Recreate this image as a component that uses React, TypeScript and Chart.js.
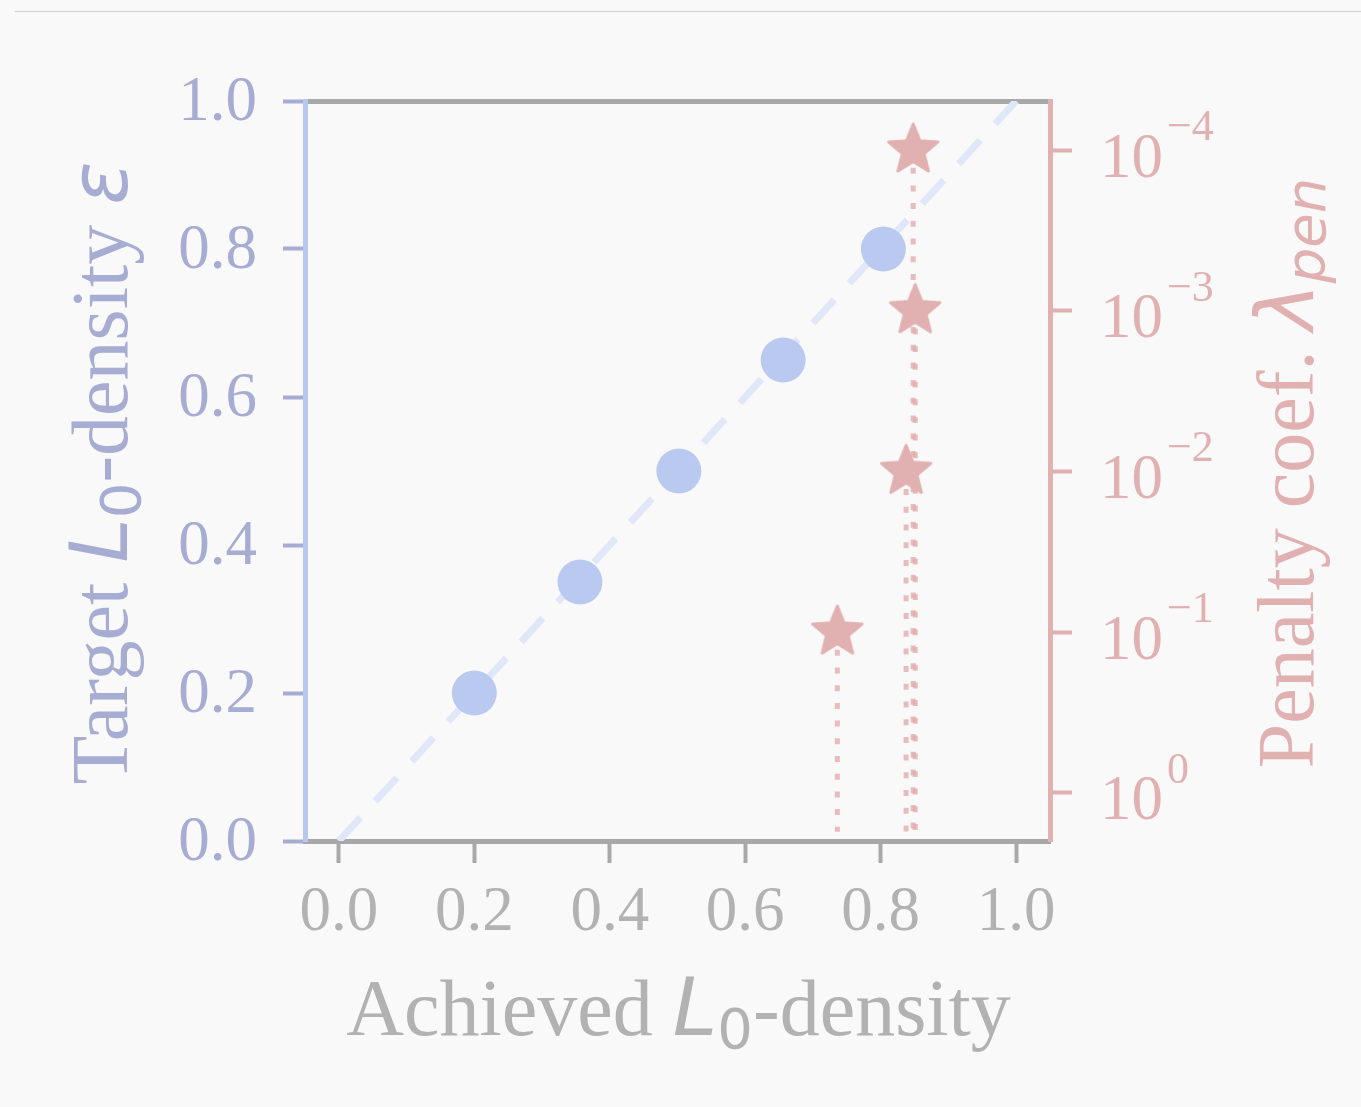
import React, { useEffect, useRef } from 'react';
import { Chart, registerables } from 'chart.js';

Chart.register(...registerables);

// ---- data ----
const achievedDensity = [0.2, 0.356, 0.502, 0.656, 0.804];
const targetDensity = [0.2, 0.35, 0.5, 0.65, 0.8];
const penaltyAchieved = [0.848, 0.851, 0.8375, 0.736];
const penaltyCoef = [1e-4, 1e-3, 1e-2, 1e-1];
const penaltyLineEnd = 1.75;
const diagonal = [0, 1];
const xTickValues = [0, 0.2, 0.4, 0.6, 0.8, 1.0];
const yTickValues = [0, 0.2, 0.4, 0.6, 0.8, 1.0];
const penaltyTickExponents = [-4, -3, -2, -1, 0];

// ---- layout / style ----
const W = 1361;
const H = 1107;
const PLOT = { left: 305, right: 1050, top: 101, bottom: 841 };
const SERIF = '"Liberation Serif", "DejaVu Serif", serif';
const SANS = '"DejaVu Sans", sans-serif';
const BG = '#f9f9f9';
const GRAY = '#a8a8a8';
const GRAY_TXT = '#b2b2b2';
const BLUE_SPINE = '#b7c8ef';
const BLUE_TXT = '#a7acd3';
const BLUE_DOT = '#b9c9ef';
const BLUE_DASH = '#dfe7f8';
const PINK = '#e1b1b1';
const PINK_LINE = 'rgba(226,172,172,0.8)';
const TICK_FONT = 63;
const TITLE_FONT = 80;
const SPINE_W = 5;
const TICK_W = 4;

function makeStar(R: number, color: string) {
  const size = 62;
  const c = document.createElement('canvas');
  c.width = size;
  c.height = size;
  const ctx = c.getContext('2d')!;
  const cx = size / 2;
  const cy = size / 2;
  ctx.beginPath();
  for (let i = 0; i < 10; i++) {
    const r = i % 2 === 0 ? R : R * 0.44;
    const a = -Math.PI / 2 + (i * Math.PI) / 5;
    const px = cx + r * Math.cos(a);
    const py = cy + r * Math.sin(a);
    if (i === 0) ctx.moveTo(px, py);
    else ctx.lineTo(px, py);
  }
  ctx.closePath();
  ctx.fillStyle = color;
  ctx.fill();
  ctx.lineJoin = 'round';
  ctx.lineWidth = 3;
  ctx.strokeStyle = color;
  ctx.stroke();
  return c;
}

type Run = { t: string; f: string; dy?: number };

function drawRuns(ctx: CanvasRenderingContext2D, runs: Run[], cx: number, cy: number, rot: number, color: string) {
  ctx.save();
  ctx.translate(cx, cy);
  ctx.rotate(rot);
  ctx.fillStyle = color;
  ctx.textBaseline = 'alphabetic';
  ctx.textAlign = 'left';
  let total = 0;
  const widths = runs.map((r) => {
    ctx.font = r.f;
    const w = ctx.measureText(r.t).width;
    total += w;
    return w;
  });
  let x = -total / 2;
  runs.forEach((r, i) => {
    ctx.font = r.f;
    ctx.fillText(r.t, x, r.dy || 0);
    x += widths[i];
  });
  ctx.restore();
}

const decorPlugin = {
  id: 'decor',
  afterDraw(chart: any) {
    const ctx: CanvasRenderingContext2D = chart.ctx;
    const serif = `${TITLE_FONT}px ${SERIF}`;
    const math = `italic ${TITLE_FONT}px ${SANS}`;
    const sub = `${Math.round(TITLE_FONT * 0.7)}px ${SANS}`;
    const subIt = `italic ${Math.round(TITLE_FONT * 0.7)}px ${SANS}`;
    const midY = (chart.chartArea.top + chart.chartArea.bottom) / 2 + 2;
    const midX = (chart.chartArea.left + chart.chartArea.right) / 2 + 1;

    // bottom title
    drawRuns(ctx, [
      { t: 'Achieved ', f: serif },
      { t: 'L', f: math },
      { t: '0', f: sub, dy: 13 },
      { t: '-density', f: serif },
    ], midX, 1035, 0, GRAY_TXT);

    // left title
    drawRuns(ctx, [
      { t: 'Target ', f: serif },
      { t: 'L', f: math },
      { t: '0', f: sub, dy: 13 },
      { t: '-density ', f: serif },
      { t: 'ε', f: math },
    ], 127, midY, -Math.PI / 2, BLUE_TXT);

    // right title
    drawRuns(ctx, [
      { t: 'Penalty coef. ', f: serif },
      { t: 'λ', f: math },
      { t: 'pen', f: subIt, dy: 12 },
    ], 1313, midY, -Math.PI / 2, PINK);

    // superscripts of the log-axis tick labels
    const s = chart.scales.y2;
    ctx.save();
    ctx.font = `${TICK_FONT}px ${SERIF}`;
    const baseW = ctx.measureText('10').width;
    ctx.font = `44px ${SERIF}`;
    ctx.fillStyle = PINK;
    ctx.textBaseline = 'alphabetic';
    ctx.textAlign = 'left';
    penaltyTickExponents.forEach((e) => {
      const y = s.getPixelForValue(Math.pow(10, e));
      const x = s.left + 22 + 28 + baseW + 4;
      ctx.fillText((e < 0 ? '\u2212' : '') + Math.abs(e), x, y - 10);
    });
    ctx.restore();
  },
};

export default function App() {
  const ref = useRef<HTMLCanvasElement>(null);

  useEffect(() => {
    const star = makeStar(26, PINK);
    const tickFont = { family: SERIF, size: TICK_FONT };
    const gridBase = { display: true, drawOnChartArea: false, drawTicks: true, tickLength: 22, tickWidth: TICK_W };

    const lineDatasets = penaltyAchieved.map((x, i) => ({
      type: 'scatter' as const,
      data: [
        { x, y: penaltyCoef[i] },
        { x, y: penaltyLineEnd },
      ],
      xAxisID: 'x',
      yAxisID: 'y2',
      showLine: true,
      borderColor: PINK_LINE,
      borderWidth: 5,
      borderDash: [6, 11.7],
      pointRadius: 0,
      pointHoverRadius: 0,
      order: 4,
    }));

    const chart = new Chart(ref.current!, {
      type: 'scatter',
      data: {
        datasets: [
          {
            data: diagonal.map((v) => ({ x: v, y: v })),
            xAxisID: 'x',
            yAxisID: 'y',
            showLine: true,
            borderColor: BLUE_DASH,
            borderWidth: 7,
            borderDash: [32, 22],
            borderCapStyle: 'butt',
            pointRadius: 0,
            pointHoverRadius: 0,
            order: 5,
          },
          {
            data: achievedDensity.map((x, i) => ({ x, y: targetDensity[i] })),
            xAxisID: 'x',
            yAxisID: 'y',
            backgroundColor: BLUE_DOT,
            borderWidth: 0,
            pointRadius: 22.5,
            pointHoverRadius: 22.5,
            order: 2,
          },
          ...lineDatasets,
          {
            data: penaltyAchieved.map((x, i) => ({ x, y: penaltyCoef[i] })),
            xAxisID: 'x',
            yAxisID: 'y2',
            pointStyle: star,
            pointRadius: 26,
            pointHoverRadius: 26,
            backgroundColor: PINK,
            borderWidth: 0,
            order: 0,
          },
        ] as any,
      },
      options: {
        responsive: false,
        devicePixelRatio: 1,
        animation: false,
        events: [],
        layout: { padding: 0 },
        plugins: { legend: { display: false }, tooltip: { enabled: false } },
        scales: {
          x: {
            type: 'linear',
            position: 'bottom',
            min: -0.05,
            max: 1.05,
            afterBuildTicks: (s: any) => {
              s.ticks = xTickValues.map((v) => ({ value: v }));
            },
            afterFit: (s: any) => {
              s.height = H - PLOT.bottom;
            },
            ticks: {
              callback: (v: any) => Number(v).toFixed(1),
              color: GRAY_TXT,
              font: tickFont,
              padding: 13,
              maxRotation: 0,
              autoSkip: false,
            },
            grid: { ...gridBase, tickColor: GRAY },
            border: { display: true, color: GRAY, width: SPINE_W },
          },
          xTop: {
            type: 'linear',
            axis: 'x',
            position: 'top',
            min: -0.05,
            max: 1.05,
            afterFit: (s: any) => {
              s.height = PLOT.top;
            },
            ticks: { display: false },
            grid: { display: false },
            border: { display: true, color: GRAY, width: SPINE_W },
          },
          y: {
            type: 'linear',
            position: 'left',
            min: 0,
            max: 1,
            afterBuildTicks: (s: any) => {
              s.ticks = yTickValues.map((v) => ({ value: v }));
            },
            afterFit: (s: any) => {
              s.width = PLOT.left;
            },
            ticks: {
              callback: (v: any) => Number(v).toFixed(1),
              color: BLUE_TXT,
              font: tickFont,
              padding: 26,
              labelOffset: 2,
              autoSkip: false,
            },
            grid: { ...gridBase, tickColor: BLUE_TXT },
            border: { display: true, color: BLUE_SPINE, width: SPINE_W },
          },
          y2: {
            type: 'logarithmic',
            position: 'right',
            reverse: true,
            min: Math.pow(10, -4.305),
            max: Math.pow(10, 0.3),
            afterBuildTicks: (s: any) => {
              s.ticks = penaltyTickExponents.map((e) => ({ value: Math.pow(10, e) }));
            },
            afterFit: (s: any) => {
              s.width = W - PLOT.right;
            },
            ticks: {
              callback: () => '10',
              color: PINK,
              font: tickFont,
              padding: 28,
              labelOffset: 10,
              autoSkip: false,
            },
            grid: { ...gridBase, tickColor: PINK },
            border: { display: true, color: PINK, width: SPINE_W },
          },
        } as any,
      },
      plugins: [decorPlugin],
    });
    return () => chart.destroy();
  }, []);

  return (
    <div style={{ position: 'absolute', left: 0, top: 0, width: W, height: H, background: BG, overflow: 'hidden' }}>
      <div style={{ position: 'absolute', left: 15, right: 0, top: 11, height: 1, background: '#d0d0d0' }} />
      <canvas ref={ref} width={W} height={H} style={{ position: 'absolute', left: 0, top: 0, width: W, height: H }} />
    </div>
  );
}
